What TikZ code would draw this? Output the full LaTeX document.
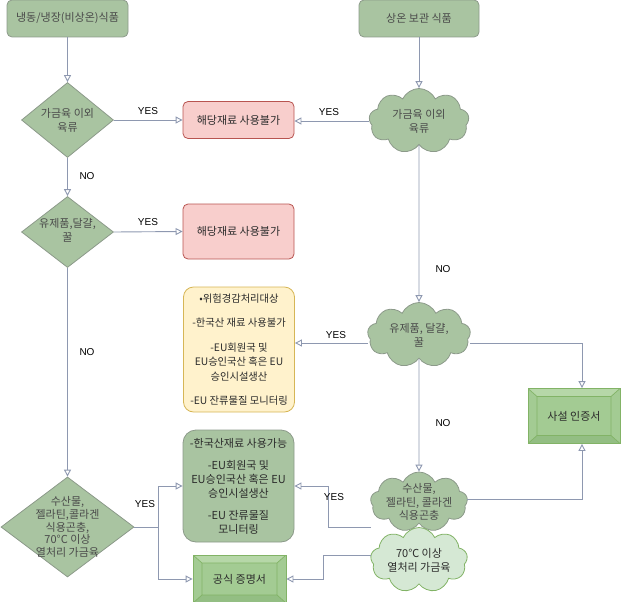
\documentclass[tikz,border=0pt]{standalone}
\usepackage{fontspec}
\setmainfont{Noto Sans CJK KR}
\newfontfamily\labfont{Liberation Sans}
\usetikzlibrary{shapes.geometric,shapes.symbols,arrows.meta,calc}
\definecolor{sage}{HTML}{A9C4A1}
\definecolor{sageline}{HTML}{8C9A8A}
\definecolor{pinkfill}{HTML}{F8CECC}
\definecolor{pinkline}{HTML}{B85450}
\definecolor{yelfill}{HTML}{FFF2CC}
\definecolor{yelline}{HTML}{D6B656}
\definecolor{lgfill}{HTML}{D5E8D4}
\definecolor{lgline}{HTML}{82B366}
\definecolor{framefill}{HTML}{A3CB93}
\definecolor{frametop}{HTML}{B6D7A8}
\definecolor{framebot}{HTML}{93BE83}
\definecolor{frameline}{HTML}{82B366}
\definecolor{connc}{HTML}{8E98B0}
\definecolor{txtc}{HTML}{2B2B2B}
\definecolor{greytxt}{HTML}{4A4A4A}
\tikzset{
  base/.style={font=\fontsize{11}{14}\selectfont, text=txtc, align=center, inner sep=2pt},
  sagebox/.style={base, draw=sageline, fill=sage, rounded corners=5pt, line width=0.8pt, text=greytxt},
  redbox/.style={base, draw=pinkline, fill=pinkfill, rounded corners=5pt, line width=0.8pt, minimum width=111pt},
  yelbox/.style={base, draw=yelline, fill=yelfill, rounded corners=10pt, line width=0.8pt,
    font=\fontsize{10.3}{14.5}\selectfont, minimum width=111pt, minimum height=125pt},
  greenbox/.style={base, draw=sageline, fill=sage, rounded corners=13pt, line width=0.8pt,
    font=\fontsize{11}{14}\selectfont, minimum width=111pt, minimum height=112pt},
  dia/.style={diamond, draw=sageline, fill=sage, inner sep=0pt, line width=0.8pt},
  cloudsty/.style={cloud, cloud puffs=9, cloud puff arc=130, cloud ignores aspect,
    draw=sageline, fill=sage, inner sep=0pt, line width=0.8pt},
  lgcloud/.style={cloudsty, draw=lgline, fill=lgfill},
  intext/.style={base, text=greytxt},
  framebox/.style={base, draw=frameline, fill=framefill, line width=0.8pt,
    path picture={
      \coordinate (fNW) at (path picture bounding box.north west);
      \coordinate (fNE) at (path picture bounding box.north east);
      \coordinate (fSE) at (path picture bounding box.south east);
      \coordinate (fSW) at (path picture bounding box.south west);
      \coordinate (iNW) at ($(fNW)+(9pt,-8pt)$);
      \coordinate (iNE) at ($(fNE)+(-9pt,-8pt)$);
      \coordinate (iSE) at ($(fSE)+(-9pt,8pt)$);
      \coordinate (iSW) at ($(fSW)+(9pt,8pt)$);
      \fill[frametop] (fNW) -- (fNE) -- (iNE) -- (iNW) -- cycle;
      \fill[framebot] (fSW) -- (fSE) -- (iSE) -- (iSW) -- cycle;
      \draw[frameline, line width=0.7pt] (iNW) rectangle (iSE)
        (fNW) -- (iNW) (fNE) -- (iNE) (fSE) -- (iSE) (fSW) -- (iSW);
    }},
  conn/.style={draw=connc, line width=0.9pt, -{Triangle[open, length=7pt, width=7pt]}},
  yn/.style={font=\labfont\fontsize{10}{12}\selectfont, text=black, inner sep=0pt}
}
\begin{document}
\begin{tikzpicture}[x=1pt, y=-1pt]
\useasboundingbox (0,0) rectangle (621,602);

% left column
\node[sagebox, minimum width=121pt, minimum height=37pt] (a) at (67.5,18.5) {냉동/냉장(비상온)식품};
\node[dia, minimum width=92pt, minimum height=75pt,
      label={[intext]center:{가금육 이외\\육류}}] (d1) at (67.5,120) {};
\node[dia, minimum width=92pt, minimum height=71pt,
      label={[intext, yshift=2pt]center:{유제품,달걀,\\꿀}}] (d2) at (67.5,232) {};
\node[dia, minimum width=133pt, minimum height=100pt,
      label={[intext, font=\fontsize{11}{12.6}\selectfont]center:{수산물,\\젤라틴,콜라겐\\식용곤충,\\70°C 이상\\열처리 가금육}}] (d4) at (67.5,527) {};

% middle column
\node[redbox, minimum height=37pt] (r1) at (238.5,120) {해당재료 사용불가};
\node[redbox, minimum height=55pt] (r2) at (238.5,231.5) {해당재료 사용불가};
\node[yelbox] (y) at (239,349.5) {•위험경감처리대상\\[10pt]-한국산 재료 사용불가\\[10pt]-EU회원국 및\\EU승인국산 혹은 EU\\승인시설생산\\[10pt]-EU 잔류물질 모니터링};
\node[greenbox] (g1) at (238.5,486) {-한국산재료 사용가능\\[8pt]-EU회원국 및\\EU승인국산 혹은 EU\\승인시설생산\\[8pt]-EU 잔류물질\\모니터링};
\node[framebox, minimum width=93pt, minimum height=48pt] (g2) at (239.5,579) {공식 증명서};

% right column
\node[sagebox, minimum width=120pt, minimum height=37pt] (b) at (419,18.5) {상온 보관 식품};
\node[cloudsty, minimum width=100pt, minimum height=65pt,
      label={[intext]center:{가금육 이외\\육류}}] (c1) at (419,121) {};
\node[cloudsty, minimum width=103pt, minimum height=65pt,
      label={[intext]center:{유제품, 달걀,\\꿀}}] (c2) at (419,335) {};
\node[cloudsty, minimum width=97pt, minimum height=60pt,
      label={[intext, font=\fontsize{11}{13.5}\selectfont]center:{수산물,\\젤라틴, 콜라겐\\식용곤충}}] (c3) at (419,502) {};
\node[lgcloud, minimum width=97pt, minimum height=65pt,
      label={[base]center:{70℃ 이상\\열처리 가금육}}] (c4) at (419,560) {};
\node[framebox, minimum width=92pt, minimum height=55pt] (p) at (574,416) {사설 인증서};

% connectors
\draw[conn] (a.south) -- (d1.north);
\draw[conn] (d1.east) -- (r1.west);
\draw[conn] (d1.south) -- (d2.north);
\draw[conn] (d2.east) -- (r2.west);
\draw[conn] (d2.south) -- (d4.north);
\coordinate (j) at ($(d4.east)+(24.5,0)$);
\draw[conn] (d4.east) -- (j) |- (g1.west);
\draw[conn] (j) |- (g2.west);

\draw[conn] (b.south) -- (c1.north);
\draw[conn] (c1.west) -- (c1.west -| r1.east);
\draw[conn] (c1.south) -- (c2.north);
\draw[conn] ([yshift=-8pt]c2.west) -- ([yshift=-8pt]c2.west -| y.east);
\draw[conn] ([yshift=-8pt]c2.east) -| ([xshift=8pt]p.north);
\draw[conn] (c2.south) -- (c3.north);
\draw[conn] ([yshift=3pt]c3.east) -| ([xshift=8pt]p.south);
\draw[conn] ([yshift=-25pt]c3.west) -- ++(-42,0) |- (g1.east);
\draw[conn] ([yshift=5pt]c4.west) -- ++(-47,0) |- (g2.east);

% labels
\node[yn] (l1) at (148,111) {YES};
\node[yn] (l2) at (87,176) {NO};
\node[yn] (l3) at (329,112) {YES};
\node[yn] (l4) at (148,222) {YES};
\node[yn] (l5) at (87,352) {NO};
\node[yn] (l6) at (443,269) {NO};
\node[yn] (l7) at (336,335) {YES};
\node[yn] (l8) at (443,423) {NO};
\node[yn] (l9) at (145,504) {YES};
\node[yn] (l10) at (334,497) {YES};
\end{tikzpicture}
\end{document}
